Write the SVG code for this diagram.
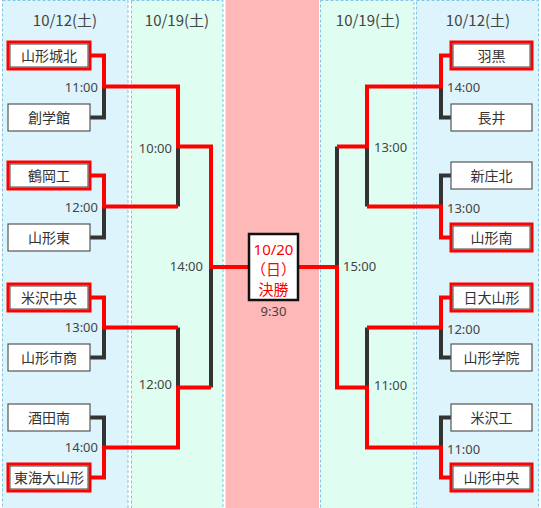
<svg xmlns="http://www.w3.org/2000/svg" width="541" height="508" viewBox="0 0 541 508">
<style>
.bgb{fill:#ddf4fd;stroke:#7cc6e6;stroke-width:1;stroke-dasharray:3 2}
.bgg{fill:#e0fdf1;stroke:#7cc6e6;stroke-width:1;stroke-dasharray:3 2}
.hd{font-family:"Noto Sans CJK JP","Noto Sans",sans-serif;font-size:15px;fill:#444;text-anchor:middle}
.tm{font-family:"Noto Sans","Noto Sans CJK JP",sans-serif;font-size:13px;fill:#444}
.l{text-anchor:end}
.nm{font-family:"Noto Sans CJK JP",sans-serif;font-size:14px;fill:#333;text-anchor:middle}
.box{fill:#fff;stroke:#555;stroke-width:1.2}
.win{fill:#fff;stroke:#f00;stroke-width:3}
.wi{fill:none;stroke:#444;stroke-width:1}
.dk{fill:none;stroke:#333;stroke-width:4}
.rd{fill:none;stroke:#f00;stroke-width:4}
.fn{font-family:"Noto Sans","Noto Sans CJK JP",sans-serif;font-size:15px;fill:#f00;text-anchor:middle}
</style>
<rect width="541" height="508" fill="#fff"/>
<g id="columns">
<rect class="bgb" x="2.5" y="0.5" width="125.5" height="520"/>
<rect class="bgg" x="131.5" y="0.5" width="91.5" height="520"/>
<rect x="225.5" y="0" width="93.5" height="508" fill="#ffb8b8"/>
<rect class="bgg" x="320.5" y="0.5" width="93.5" height="520"/>
<rect class="bgb" x="416.5" y="0.5" width="122" height="520"/>
</g>
<g id="headers">
<text class="hd" x="65" y="26">10/12(土)</text>
<text class="hd" x="177" y="26">10/19(土)</text>
<text class="hd" x="368" y="26">10/19(土)</text>
<text class="hd" x="478" y="26">10/12(土)</text>
</g>
<g id="connectors">
<path class="dk" d="M90 117.5H104V86.5"/>
<path class="dk" d="M90 237.5H104V206.5"/>
<path class="dk" d="M90 357.5H104V327.5"/>
<path class="dk" d="M90 417.5H104V447.5"/>
<path class="dk" d="M178 206.5V146.5"/>
<path class="dk" d="M178 327.5V387.5"/>
<path class="dk" d="M211 387.5V267"/>
<path class="rd" d="M90 55.5H104V86.5H178V146.5H211V267H249"/>
<path class="rd" d="M90 175.5H104V206.5H178"/>
<path class="rd" d="M90 297.5H104V327.5H178"/>
<path class="rd" d="M90 477.5H104V447.5H178V387.5H211"/>
<path class="dk" d="M451 117.5H441V86.5"/>
<path class="dk" d="M451 175.5H441V206.5"/>
<path class="dk" d="M451 357.5H441V327.5"/>
<path class="dk" d="M451 417.5H441V447.5"/>
<path class="dk" d="M367 206.5V146.5"/>
<path class="dk" d="M367 327.5V387.5"/>
<path class="dk" d="M337 146.5V267"/>
<path class="rd" d="M451 55.5H441V86.5H367V146.5H337"/>
<path class="rd" d="M451 237.5H441V206.5H367"/>
<path class="rd" d="M451 297.5H441V327.5H367"/>
<path class="rd" d="M451 477.5H441V447.5H367V387.5H337V267H298"/>
</g>
<g id="times">
<text class="tm l" x="98" y="92">11:00</text>
<text class="tm l" x="98" y="212">12:00</text>
<text class="tm l" x="98" y="332">13:00</text>
<text class="tm l" x="98" y="452">14:00</text>
<text class="tm l" x="172" y="153">10:00</text>
<text class="tm l" x="172" y="389">12:00</text>
<text class="tm l" x="203" y="271">14:00</text>
<text class="tm" x="447" y="92">14:00</text>
<text class="tm" x="447" y="213">13:00</text>
<text class="tm" x="447" y="334">12:00</text>
<text class="tm" x="447" y="454">11:00</text>
<text class="tm" x="374" y="152">13:00</text>
<text class="tm" x="374" y="390">11:00</text>
<text class="tm" x="343" y="271">15:00</text>
</g>
<g id="n-yamagatajohoku"><rect class="win" x="8" y="42" width="82" height="27"/><rect class="wi" x="10" y="44" width="78" height="23"/><text class="nm" x="49" y="60.5">山形城北</text></g>
<g id="n-sogakukan"><rect class="box" x="8" y="104" width="82" height="27"/><text class="nm" x="49" y="122.5">創学館</text></g>
<g id="n-tsuruokako"><rect class="win" x="8" y="162" width="82" height="27"/><rect class="wi" x="10" y="164" width="78" height="23"/><text class="nm" x="49" y="180.5">鶴岡工</text></g>
<g id="n-yamagatahigashi"><rect class="box" x="8" y="224" width="82" height="27"/><text class="nm" x="49" y="242.5">山形東</text></g>
<g id="n-yonezawachuo"><rect class="win" x="8" y="284" width="82" height="27"/><rect class="wi" x="10" y="286" width="78" height="23"/><text class="nm" x="49" y="302.5">米沢中央</text></g>
<g id="n-yamagatashisho"><rect class="box" x="8" y="344" width="82" height="27"/><text class="nm" x="49" y="362.5">山形市商</text></g>
<g id="n-sakataminami"><rect class="box" x="8" y="404" width="82" height="27"/><text class="nm" x="49" y="422.5">酒田南</text></g>
<g id="n-tokaidaiyamagata"><rect class="win" x="8" y="464" width="82" height="27"/><rect class="wi" x="10" y="466" width="78" height="23"/><text class="nm" x="49" y="482.5">東海大山形</text></g>
<g id="n-haguro"><rect class="win" x="451" y="42" width="81" height="27"/><rect class="wi" x="453" y="44" width="77" height="23"/><text class="nm" x="491.5" y="60.5">羽黒</text></g>
<g id="n-nagai"><rect class="box" x="451" y="104" width="81" height="27"/><text class="nm" x="491.5" y="122.5">長井</text></g>
<g id="n-shinjokita"><rect class="box" x="451" y="162" width="81" height="27"/><text class="nm" x="491.5" y="180.5">新庄北</text></g>
<g id="n-yamagataminami"><rect class="win" x="451" y="224" width="81" height="27"/><rect class="wi" x="453" y="226" width="77" height="23"/><text class="nm" x="491.5" y="242.5">山形南</text></g>
<g id="n-nichidaiyamagata"><rect class="win" x="451" y="284" width="81" height="27"/><rect class="wi" x="453" y="286" width="77" height="23"/><text class="nm" x="491.5" y="302.5">日大山形</text></g>
<g id="n-yamagatagakuin"><rect class="box" x="451" y="344" width="81" height="27"/><text class="nm" x="491.5" y="362.5">山形学院</text></g>
<g id="n-yonezawako"><rect class="box" x="451" y="404" width="81" height="27"/><text class="nm" x="491.5" y="422.5">米沢工</text></g>
<g id="n-yamagatachuo"><rect class="win" x="451" y="464" width="81" height="27"/><rect class="wi" x="453" y="466" width="77" height="23"/><text class="nm" x="491.5" y="482.5">山形中央</text></g>
<g id="n-final">
<rect x="249" y="234" width="49" height="66" fill="#fff" stroke="#111" stroke-width="2.5"/>
<text class="fn" x="273.5" y="254.5">10/20</text>
<text class="fn" x="273.5" y="274.5">（日）</text>
<text class="fn" x="273.5" y="294.5">決勝</text>
<text class="tm" x="273.5" y="316" text-anchor="middle">9:30</text>
</g>
</svg>
